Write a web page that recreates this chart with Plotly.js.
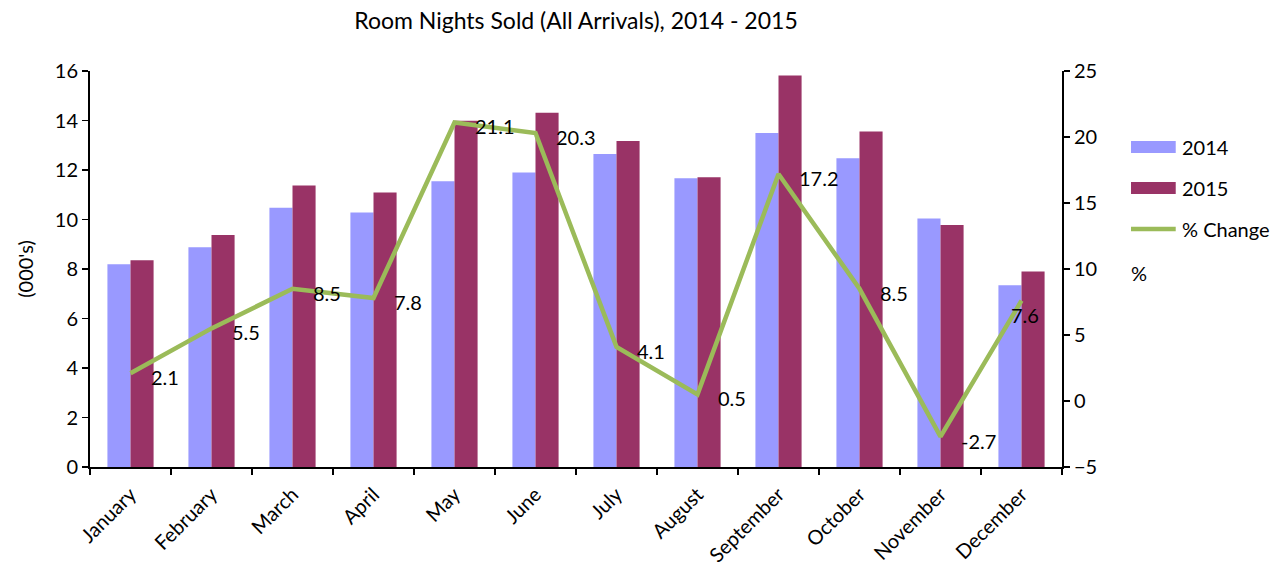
<!DOCTYPE html>
<html>
<head>
<meta charset="utf-8">
<script src="https://cdn.plot.ly/plotly-3.0.1.min.js"></script>
<style>html,body{margin:0;padding:0;background:#fff;}#chart{width:1276px;height:569px;}</style>
</head>
<body>
<div id="chart"></div>
<script>
const months = ["January","February","March","April","May","June","July","August","September","October","November","December"];
const nights2014 = [8.19, 8.88, 10.47, 10.28, 11.55, 11.90, 12.65, 11.67, 13.49, 12.47, 10.04, 7.34];
const nights2015 = [8.35, 9.37, 11.37, 11.09, 13.99, 14.31, 13.17, 11.71, 15.82, 13.56, 9.78, 7.90];
const pctChange = [2.1, 5.5, 8.5, 7.8, 21.1, 20.3, 4.1, 0.5, 17.2, 8.5, -2.7, 7.6];
const seriesNames = ["2014", "2015", "% Change"];

const FONT = "Lato, 'Open Sans', sans-serif";
const FS = 20;
const C14 = "#9999FF", C15 = "#993366", CL = "#9BBB59";

const traces = [
  {type:"bar", name:seriesNames[0], x:months, y:nights2014, marker:{color:C14}, hoverinfo:"none"},
  {type:"bar", name:seriesNames[1], x:months, y:nights2015, marker:{color:C15}, hoverinfo:"none"},
  {type:"scatter", mode:"lines", name:seriesNames[2], x:months, y:pctChange, yaxis:"y2",
   line:{color:CL, width:4.5}, hoverinfo:"none"}
];

const annotations = pctChange.map((v,i)=>{
  const last = i === pctChange.length-1;
  return {
    x: months[i], y: v, xref:"x", yref:"y2", text: v.toFixed(1), showarrow:false,
    xanchor: last ? "center" : "left", yanchor:"middle",
    xshift: last ? 3 : 18, yshift: last ? -14 : -4,
    font:{family:FONT, size:FS, color:"#000"}
  };
});
annotations.push({
  xref:"paper", yref:"paper", x:1.069, y:0.489, xanchor:"left", yanchor:"middle",
  text:"%", showarrow:false, font:{family:FONT, size:FS, color:"#000"}
});

// manual legend (Excel-style wide swatches)
const legX0 = 1.071, legX1 = 1.117, legTX = 1.121;
const legY = [0.808, 0.7045, 0.601];
const shapes = [
  {type:"rect", xref:"paper", yref:"paper", x0:legX0, x1:legX1, y0:legY[0]-0.015, y1:legY[0]+0.015, fillcolor:C14, line:{width:0}},
  {type:"rect", xref:"paper", yref:"paper", x0:legX0, x1:legX1, y0:legY[1]-0.015, y1:legY[1]+0.015, fillcolor:C15, line:{width:0}},
  {type:"line", xref:"paper", yref:"paper", x0:legX0, x1:legX1, y0:legY[2], y1:legY[2], line:{color:CL, width:4.5}}
];
seriesNames.forEach((n,i)=>{
  annotations.push({xref:"paper", yref:"paper", x:legTX, y:legY[i], xanchor:"left", yanchor:"middle",
    text:n, showarrow:false, font:{family:FONT, size:FS, color:"#000"}});
});

const layout = {
  width:1276, height:569,
  margin:{l:90, r:214, t:71, b:102, pad:0},
  paper_bgcolor:"#fff", plot_bgcolor:"#fff",
  font:{family:FONT, size:FS, color:"#000"},
  title:{text:"Room Nights Sold (All Arrivals), 2014 - 2015", x:0.5, xref:"paper", xanchor:"center",
         y:0.963, yref:"container", yanchor:"middle", font:{family:FONT, size:23, color:"#000"}},
  barmode:"group", bargap:0.43, bargroupgap:0,
  showlegend:false,
  xaxis:{type:"category", showline:true, linecolor:"#000", linewidth:2, ticks:"outside", tickson:"boundaries",
         ticklen:6, tickcolor:"#000", tickwidth:1.5, tickangle:-45, ticklabelstandoff:6, showgrid:false, zeroline:false,
         tickfont:{family:FONT, size:FS}, automargin:false},
  yaxis:{range:[0,16], dtick:2, showline:true, linecolor:"#000", linewidth:2, ticks:"outside", ticklen:6,
         tickcolor:"#000", tickwidth:1.5, showgrid:false, zeroline:false,
         title:{text:"(000's)", standoff:16, font:{family:FONT, size:FS}}, tickfont:{family:FONT, size:FS}, automargin:false},
  yaxis2:{range:[-5,25], dtick:5, overlaying:"y", side:"right", showline:true, linecolor:"#000", linewidth:2,
          ticks:"outside", ticklen:6, tickcolor:"#000", tickwidth:1.5, showgrid:false, zeroline:false,
          tickfont:{family:FONT, size:FS}, automargin:false},
  annotations: annotations,
  shapes: shapes
};

Plotly.newPlot("chart", traces, layout, {displayModeBar:false, staticPlot:true});
</script>
</body>
</html>
